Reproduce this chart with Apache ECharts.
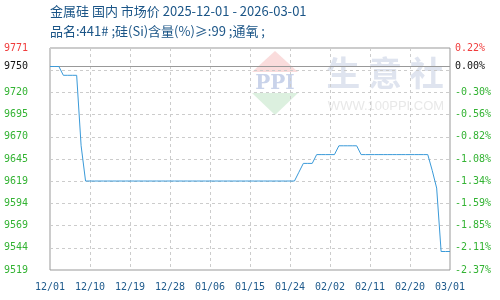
<!DOCTYPE html>
<html>
<head>
<meta charset="utf-8">
<script src="https://cdn.jsdelivr.net/npm/echarts@6/dist/echarts.min.js"></script>
<style>html,body{margin:0;padding:0;background:#fff}#c{width:500px;height:300px}</style>
</head>
<body>
<div id="c"></div>
<script>
// ---- data ----
var titleText = '金属硅 国内 市场价 2025-12-01 - 2026-03-01';
var subText = '品名:441# ;硅(Si)含量(%)≥:99 ;通氧 ;';
var startDate = '2025-12-01';
var dayCount = 91; // 2025-12-01 .. 2026-03-01
var basePrice = 9750;
var yMin = 9519, yMax = 9771;
var yTickValues = [9519, 9544.2, 9569.4, 9594.6, 9619.8, 9645, 9670.2, 9695.4, 9720.6, 9750, 9771];
// daily price
var prices = [
  9750, 9750, 9750,
  9740, 9740, 9740, 9740,
  9660,
  9620, 9620, 9620, 9620, 9620, 9620, 9620, 9620, 9620, 9620,
  9620, 9620, 9620, 9620, 9620, 9620, 9620, 9620, 9620, 9620,
  9620, 9620, 9620, 9620, 9620, 9620, 9620, 9620, 9620, 9620,
  9620, 9620, 9620, 9620, 9620, 9620, 9620, 9620, 9620, 9620,
  9620, 9620, 9620, 9620, 9620, 9620, 9620, 9620,
  9630,
  9640, 9640, 9640,
  9650, 9650, 9650, 9650, 9650,
  9660, 9660, 9660, 9660, 9660,
  9650, 9650, 9650, 9650, 9650, 9650, 9650, 9650,
  9650, 9650, 9650, 9650, 9650, 9650, 9650, 9650,
  9632,
  9612,
  9540, 9540, 9540
];

// categories (MM/DD for each day)
var categories = [];
(function(){
  var d = new Date(startDate + 'T00:00:00Z');
  for (var i = 0; i < dayCount; i++) {
    var m = d.getUTCMonth() + 1, dd = d.getUTCDate();
    categories.push((m < 10 ? '0' : '') + m + '/' + (dd < 10 ? '0' : '') + dd);
    d.setUTCDate(d.getUTCDate() + 1);
  }
})();

var GREEN = '#33b333', RED = '#f03c3c', BLACK = '#111';
function labelColor(v) {
  v = Number(v);
  if (Math.abs(v - yMax) < 0.01) return RED;
  if (Math.abs(v - basePrice) < 0.01) return BLACK;
  return GREEN;
}
var mono = 'DejaVu Sans Mono';
var cjk = '"Noto Sans CJK SC", "Noto Sans", sans-serif';

var chart = echarts.init(document.getElementById('c'), null, {renderer: 'canvas'});
chart.setOption({
  animation: false,
  backgroundColor: '#fff',
  grid: {left: 50, right: 50, top: 48, bottom: 30, show: true, borderColor: '#999', borderWidth: 1, containLabel: false},
  graphic: [
    {type: 'text', left: 50, top: 5, z: 10, style: {text: titleText, fill: '#1b5587', font: '13px ' + cjk}},
    {type: 'text', left: 50, top: 25, z: 10, style: {text: subText, fill: '#1b5587', font: '13px ' + cjk}},
    // watermark
    {type: 'polygon', z: 0, shape: {points: [[275, 51], [298, 72], [252, 72]]}, style: {fill: '#fadcdc'}},
    {type: 'polygon', z: 0, shape: {points: [[252, 93], [298, 93], [275, 115]]}, style: {fill: '#dcf0df'}},
    {type: 'text', z: 0, x: 275, y: 84, style: {text: 'PPI', fill: '#c9d3ea', font: 'bold 20px "DejaVu Serif", serif', align: 'center', verticalAlign: 'middle'}},
    {type: 'text', z: 0, x: 385, y: 73, style: {text: '生 意 社', fill: '#dfe4ef', font: 'bold 34px ' + cjk, align: 'center', verticalAlign: 'middle'}},
    {type: 'text', z: 0, x: 386, y: 106, style: {text: 'WWW.100PPI.COM', fill: '#e8e8e8', font: '13px "Liberation Sans", Arial, sans-serif', align: 'center', verticalAlign: 'middle'}}
  ],
  xAxis: {
    type: 'category',
    data: categories,
    boundaryGap: false,
    axisLine: {show: false},
    axisTick: {show: false},
    axisLabel: {interval: 8, color: '#1e5a8c', fontFamily: mono, fontSize: 10, margin: 12},
    splitLine: {show: true, interval: 8, lineStyle: {color: '#ccc', type: [3, 3], width: 1}}
  },
  yAxis: [
    {
      type: 'value', min: yMin, max: yMax, position: 'left',
      axisLine: {show: false}, axisTick: {show: false}, splitLine: {show: false},
      axisLabel: {
        customValues: yTickValues, margin: 22, fontFamily: mono, fontSize: 10,
        formatter: function (v) { return String(Math.floor(v + 1e-6)); },
        color: labelColor
      }
    },
    {
      type: 'value', min: 0, max: 10, interval: 1, position: 'left',
      axisLine: {show: false}, axisTick: {show: false}, axisLabel: {show: false},
      splitLine: {show: true, lineStyle: {color: '#ccc', type: [3, 3], width: 1}}
    },
    {
      type: 'value', min: yMin, max: yMax, position: 'right',
      axisLine: {show: false}, axisTick: {show: false}, splitLine: {show: false},
      axisLabel: {
        customValues: yTickValues, margin: 5, fontFamily: mono, fontSize: 10,
        formatter: function (v) { return ((v / basePrice - 1) * 100).toFixed(2) + '%'; },
        color: labelColor
      }
    }
  ],
  series: [{
    type: 'line',
    yAxisIndex: 0,
    data: prices,
    showSymbol: false,
    symbol: 'none',
    lineStyle: {color: '#3a9ad9', width: 1},
    z: 5,
    markLine: {
      silent: true, symbol: 'none', label: {show: false},
      lineStyle: {color: '#999', type: 'solid', width: 1},
      data: [{yAxis: basePrice}]
    }
  }]
});
</script>
</body>
</html>
